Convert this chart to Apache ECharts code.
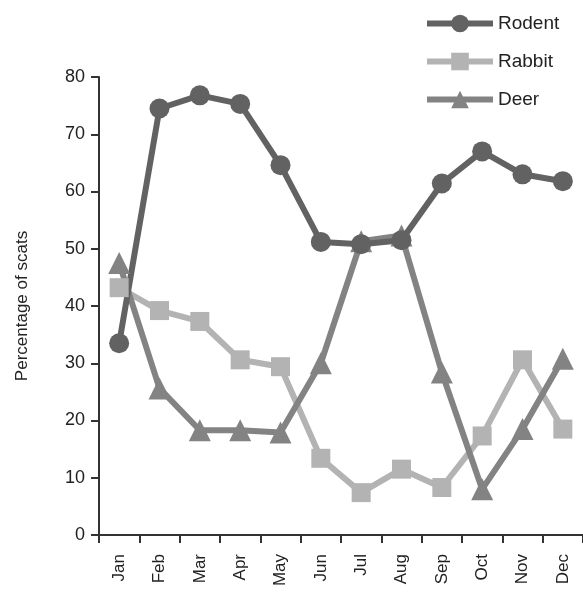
<!DOCTYPE html>
<html>
<head>
<meta charset="utf-8">
<script src="https://cdn.jsdelivr.net/npm/echarts@6/dist/echarts.min.js"></script>
<style>
  html, body { margin: 0; padding: 0; background: #fff; }
  #chart { width: 583px; height: 598px; }
</style>
</head>
<body>
<div id="chart"></div>
<script>
const months = ["Jan", "Feb", "Mar", "Apr", "May", "Jun", "Jul", "Aug", "Sep", "Oct", "Nov", "Dec"];
const rodent = [33.5, 74.5, 76.8, 75.3, 64.6, 51.2, 50.8, 51.5, 61.4, 67, 63, 61.8];
const rabbit = [43.2, 39.2, 37.3, 30.6, 29.4, 13.4, 7.4, 11.5, 8.3, 17.3, 30.6, 18.5];
const deer = [47.5, 25.6, 18.3, 18.3, 17.9, 30, 51.3, 52.3, 28.4, 8, 18.5, 30.8];
const yTicks = [0, 10, 20, 30, 40, 50, 60, 70, 80];

const chart = echarts.init(document.getElementById("chart"));

const font = "Liberation Sans, Arial, sans-serif";

function lineSeries(name, data, color, symbol, size) {
  return {
    name: name,
    type: "line",
    data: data,
    symbol: symbol,
    symbolSize: size,
    clip: false,
    lineStyle: { color: color, width: 6 },
    itemStyle: { color: color },
  };
}

const option = {
  animation: false,
  backgroundColor: "#fff",
  grid: { left: 99, right: 0, top: 77, bottom: 63 },
  legend: {
    orient: "vertical",
    left: 419,
    top: 9,
    itemWidth: 66,
    itemHeight: 22,
    itemGap: 19,
    lineStyle: { width: 6 },
    textStyle: { fontFamily: font, fontSize: 19, color: "#222" },
    data: ["Rodent", "Rabbit", "Deer"],
  },
  xAxis: {
    type: "category",
    data: months,
    boundaryGap: true,
    axisLine: { lineStyle: { color: "#333", width: 2 } },
    axisTick: { show: true, length: 8, lineStyle: { color: "#333", width: 2 } },
    axisLabel: {
      rotate: 90,
      margin: 19,
      fontFamily: font,
      fontSize: 17,
      color: "#222",
    },
  },
  yAxis: {
    type: "value",
    min: yTicks[0],
    max: yTicks[yTicks.length - 1],
    interval: 10,
    name: "Percentage of scats",
    nameLocation: "middle",
    nameGap: 68,
    nameTextStyle: { fontFamily: font, fontSize: 17, color: "#222" },
    splitLine: { show: false },
    axisLine: { show: true, lineStyle: { color: "#333", width: 2 } },
    axisTick: { show: true, length: 8, lineStyle: { color: "#333", width: 2 } },
    axisLabel: {
      margin: 14,
      fontFamily: font,
      fontSize: 18,
      color: "#222",
    },
  },
  series: [
    lineSeries("Rabbit", rabbit, "#b3b3b3", "rect", 19),
    lineSeries("Deer", deer, "#838383", "triangle", 22),
    lineSeries("Rodent", rodent, "#626262", "circle", 20),
  ],
};

chart.setOption(option);
</script>
</body>
</html>
